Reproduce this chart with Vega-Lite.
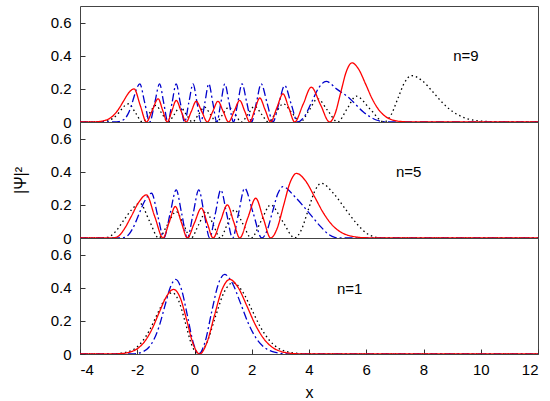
{
  "$schema": "https://vega.github.io/schema/vega-lite/v6.json",
  "padding": {"left": 11, "top": 5, "right": 5, "bottom": 0},
  "bounds": "flush",
  "spacing": 0,
  "config": {
    "font": "Liberation Sans",
    "view": {"stroke": "#444444", "strokeWidth": 1},
    "axis": {
      "domain": false, "grid": false, "tickColor": "#333333", "tickSize": -5, "tickCount": 20, "labelOverlap": false,
      "labelFontSize": 15, "labelColor": "#000000",
      "titleFontSize": 16, "titleFontWeight": "normal", "titleColor": "#000000"
    }
  },
  "datasets": {
    "lab": [
      {"n": 9, "x": 9.48, "y": 0.40, "t": "n=9"},
      {"n": 5, "x": 7.48, "y": 0.40, "t": "n=5"},
      {"n": 1, "x": 5.42, "y": 0.39, "t": "n=1"}
    ],
    "psi": [
      {"n":9,"c":"k","x":-4,"y":0},{"n":9,"c":"k","x":-3.45,"y":0},{"n":9,"c":"k","x":-3.26,"y":0.001},{"n":9,"c":"k","x":-3.125,"y":0.004},
      {"n":9,"c":"k","x":-2.99,"y":0.010},{"n":9,"c":"k","x":-2.85,"y":0.022},{"n":9,"c":"k","x":-2.71,"y":0.043},{"n":9,"c":"k","x":-2.575,"y":0.071},
      {"n":9,"c":"k","x":-2.44,"y":0.098},{"n":9,"c":"k","x":-2.3,"y":0.11},{"n":9,"c":"k","x":-2.06,"y":0.055},{"n":9,"c":"k","x":-1.82,"y":0},
      {"n":9,"c":"k","x":-1.585,"y":0.05},{"n":9,"c":"k","x":-1.35,"y":0.10},{"n":9,"c":"k","x":-1.135,"y":0.05},{"n":9,"c":"k","x":-0.92,"y":0},
      {"n":9,"c":"k","x":-0.71,"y":0.045},{"n":9,"c":"k","x":-0.5,"y":0.09},{"n":9,"c":"k","x":-0.285,"y":0.045},{"n":9,"c":"k","x":-0.07,"y":0},
      {"n":9,"c":"k","x":0.14,"y":0.045},{"n":9,"c":"k","x":0.35,"y":0.09},{"n":9,"c":"k","x":0.56,"y":0.045},{"n":9,"c":"k","x":0.77,"y":0},
      {"n":9,"c":"k","x":0.985,"y":0.045},{"n":9,"c":"k","x":1.2,"y":0.09},{"n":9,"c":"k","x":1.42,"y":0.045},{"n":9,"c":"k","x":1.64,"y":0},
      {"n":9,"c":"k","x":1.87,"y":0.0475},{"n":9,"c":"k","x":2.1,"y":0.095},{"n":9,"c":"k","x":2.34,"y":0.0475},{"n":9,"c":"k","x":2.58,"y":0},
      {"n":9,"c":"k","x":2.84,"y":0.055},{"n":9,"c":"k","x":3.1,"y":0.11},{"n":9,"c":"k","x":3.4,"y":0.055},{"n":9,"c":"k","x":3.7,"y":0},
      {"n":9,"c":"k","x":4.0,"y":0.07},{"n":9,"c":"k","x":4.3,"y":0.14},{"n":9,"c":"k","x":4.65,"y":0.07},{"n":9,"c":"k","x":5.0,"y":0},
      {"n":9,"c":"k","x":5.325,"y":0.078},{"n":9,"c":"k","x":5.65,"y":0.156},{"n":9,"c":"k","x":6.135,"y":0.078},{"n":9,"c":"k","x":6.62,"y":0},
      {"n":9,"c":"k","x":6.86,"y":0.041},{"n":9,"c":"k","x":7.10,"y":0.14},{"n":9,"c":"k","x":7.34,"y":0.239},{"n":9,"c":"k","x":7.58,"y":0.28},
      {"n":9,"c":"k","x":7.955,"y":0.249},{"n":9,"c":"k","x":8.33,"y":0.181},{"n":9,"c":"k","x":8.705,"y":0.109},{"n":9,"c":"k","x":9.08,"y":0.056},
      {"n":9,"c":"k","x":9.455,"y":0.024},{"n":9,"c":"k","x":9.83,"y":0.009},{"n":9,"c":"k","x":10.205,"y":0.003},{"n":9,"c":"k","x":10.58,"y":0.001},
      {"n":9,"c":"k","x":10.9,"y":0},{"n":9,"c":"k","x":12,"y":0},

      {"n":9,"c":"b","x":-4,"y":0},{"n":9,"c":"b","x":-2.8,"y":0},{"n":9,"c":"b","x":-2.645,"y":0.002},{"n":9,"c":"b","x":-2.54,"y":0.008},
      {"n":9,"c":"b","x":-2.435,"y":0.020},{"n":9,"c":"b","x":-2.33,"y":0.046},{"n":9,"c":"b","x":-2.225,"y":0.089},{"n":9,"c":"b","x":-2.12,"y":0.148},
      {"n":9,"c":"b","x":-2.015,"y":0.204},{"n":9,"c":"b","x":-1.91,"y":0.23},{"n":9,"c":"b","x":-1.7375,"y":0.115},{"n":9,"c":"b","x":-1.565,"y":0},
      {"n":9,"c":"b","x":-1.39,"y":0.115},{"n":9,"c":"b","x":-1.22,"y":0.23},{"n":9,"c":"b","x":-1.075,"y":0.115},{"n":9,"c":"b","x":-0.93,"y":0},
      {"n":9,"c":"b","x":-0.785,"y":0.115},{"n":9,"c":"b","x":-0.64,"y":0.23},{"n":9,"c":"b","x":-0.495,"y":0.115},{"n":9,"c":"b","x":-0.345,"y":0},
      {"n":9,"c":"b","x":-0.2,"y":0.115},{"n":9,"c":"b","x":-0.05,"y":0.23},{"n":9,"c":"b","x":0.09,"y":0.115},{"n":9,"c":"b","x":0.225,"y":0},
      {"n":9,"c":"b","x":0.36,"y":0.115},{"n":9,"c":"b","x":0.50,"y":0.23},{"n":9,"c":"b","x":0.64,"y":0.115},{"n":9,"c":"b","x":0.78,"y":0},
      {"n":9,"c":"b","x":0.92,"y":0.115},{"n":9,"c":"b","x":1.06,"y":0.23},{"n":9,"c":"b","x":1.21,"y":0.115},{"n":9,"c":"b","x":1.36,"y":0},
      {"n":9,"c":"b","x":1.51,"y":0.115},{"n":9,"c":"b","x":1.66,"y":0.23},{"n":9,"c":"b","x":1.83,"y":0.115},{"n":9,"c":"b","x":1.995,"y":0},
      {"n":9,"c":"b","x":2.16,"y":0.115},{"n":9,"c":"b","x":2.33,"y":0.23},{"n":9,"c":"b","x":2.535,"y":0.115},{"n":9,"c":"b","x":2.74,"y":0},
      {"n":9,"c":"b","x":2.945,"y":0.11},{"n":9,"c":"b","x":3.15,"y":0.22},{"n":9,"c":"b","x":3.375,"y":0.11},{"n":9,"c":"b","x":3.6,"y":0},
      {"n":9,"c":"b","x":3.85,"y":0.036},{"n":9,"c":"b","x":4.1,"y":0.1225},{"n":9,"c":"b","x":4.35,"y":0.209},{"n":9,"c":"b","x":4.6,"y":0.245},
      {"n":9,"c":"b","x":4.96,"y":0.20},{"n":9,"c":"b","x":5.42,"y":0.142},{"n":9,"c":"b","x":5.89,"y":0.062},{"n":9,"c":"b","x":6.35,"y":0.012},
      {"n":9,"c":"b","x":6.6,"y":0.002},{"n":9,"c":"b","x":6.8,"y":0},{"n":9,"c":"b","x":12,"y":0},

      {"n":9,"c":"r","x":-4,"y":0},{"n":9,"c":"r","x":-3.6,"y":0},{"n":9,"c":"r","x":-3.37,"y":0.002},{"n":9,"c":"r","x":-3.19,"y":0.007},
      {"n":9,"c":"r","x":-3.01,"y":0.017},{"n":9,"c":"r","x":-2.83,"y":0.040},{"n":9,"c":"r","x":-2.65,"y":0.078},{"n":9,"c":"r","x":-2.47,"y":0.129},
      {"n":9,"c":"r","x":-2.29,"y":0.178},{"n":9,"c":"r","x":-2.11,"y":0.20},{"n":9,"c":"r","x":-1.895,"y":0.10},{"n":9,"c":"r","x":-1.68,"y":0},
      {"n":9,"c":"r","x":-1.475,"y":0.07},{"n":9,"c":"r","x":-1.27,"y":0.14},{"n":9,"c":"r","x":-1.11,"y":0.07},{"n":9,"c":"r","x":-0.95,"y":0},
      {"n":9,"c":"r","x":-0.795,"y":0.065},{"n":9,"c":"r","x":-0.64,"y":0.13},{"n":9,"c":"r","x":-0.465,"y":0.065},{"n":9,"c":"r","x":-0.29,"y":0},
      {"n":9,"c":"r","x":-0.115,"y":0.0625},{"n":9,"c":"r","x":0.06,"y":0.125},{"n":9,"c":"r","x":0.255,"y":0.0625},{"n":9,"c":"r","x":0.45,"y":0},
      {"n":9,"c":"r","x":0.635,"y":0.0625},{"n":9,"c":"r","x":0.82,"y":0.125},{"n":9,"c":"r","x":1.005,"y":0.0625},{"n":9,"c":"r","x":1.19,"y":0},
      {"n":9,"c":"r","x":1.385,"y":0.065},{"n":9,"c":"r","x":1.58,"y":0.13},{"n":9,"c":"r","x":1.755,"y":0.065},{"n":9,"c":"r","x":1.93,"y":0},
      {"n":9,"c":"r","x":2.105,"y":0.0725},{"n":9,"c":"r","x":2.28,"y":0.145},{"n":9,"c":"r","x":2.47,"y":0.0725},{"n":9,"c":"r","x":2.66,"y":0},
      {"n":9,"c":"r","x":2.875,"y":0.085},{"n":9,"c":"r","x":3.09,"y":0.17},{"n":9,"c":"r","x":3.295,"y":0.085},{"n":9,"c":"r","x":3.5,"y":0},
      {"n":9,"c":"r","x":3.79,"y":0.105},{"n":9,"c":"r","x":4.08,"y":0.21},{"n":9,"c":"r","x":4.40,"y":0.105},{"n":9,"c":"r","x":4.72,"y":0},
      {"n":9,"c":"r","x":4.915,"y":0.052},{"n":9,"c":"r","x":5.11,"y":0.179},{"n":9,"c":"r","x":5.305,"y":0.305},{"n":9,"c":"r","x":5.50,"y":0.357},
      {"n":9,"c":"r","x":5.74,"y":0.317},{"n":9,"c":"r","x":5.975,"y":0.230},{"n":9,"c":"r","x":6.21,"y":0.139},{"n":9,"c":"r","x":6.45,"y":0.071},
      {"n":9,"c":"r","x":6.69,"y":0.031},{"n":9,"c":"r","x":6.925,"y":0.012},{"n":9,"c":"r","x":7.16,"y":0.004},{"n":9,"c":"r","x":7.4,"y":0.001},
      {"n":9,"c":"r","x":7.6,"y":0},{"n":9,"c":"r","x":12,"y":0},

      {"n":5,"c":"k","x":-4,"y":0},{"n":5,"c":"k","x":-3.25,"y":0},{"n":5,"c":"k","x":-3.1,"y":0.002},{"n":5,"c":"k","x":-2.95,"y":0.01},
      {"n":5,"c":"k","x":-2.75,"y":0.04},{"n":5,"c":"k","x":-2.5,"y":0.10},{"n":5,"c":"k","x":-2.2,"y":0.17},{"n":5,"c":"k","x":-1.91,"y":0.21},
      {"n":5,"c":"k","x":-1.58,"y":0.105},{"n":5,"c":"k","x":-1.25,"y":0},{"n":5,"c":"k","x":-0.945,"y":0.08},{"n":5,"c":"k","x":-0.64,"y":0.16},
      {"n":5,"c":"k","x":-0.38,"y":0.08},{"n":5,"c":"k","x":-0.12,"y":0},{"n":5,"c":"k","x":0.145,"y":0.08},{"n":5,"c":"k","x":0.41,"y":0.16},
      {"n":5,"c":"k","x":0.655,"y":0.08},{"n":5,"c":"k","x":0.9,"y":0},{"n":5,"c":"k","x":1.15,"y":0.085},{"n":5,"c":"k","x":1.40,"y":0.17},
      {"n":5,"c":"k","x":1.69,"y":0.085},{"n":5,"c":"k","x":1.98,"y":0},{"n":5,"c":"k","x":2.32,"y":0.10},{"n":5,"c":"k","x":2.66,"y":0.20},
      {"n":5,"c":"k","x":3.08,"y":0.10},{"n":5,"c":"k","x":3.5,"y":0},{"n":5,"c":"k","x":3.73,"y":0.048},{"n":5,"c":"k","x":3.965,"y":0.165},
      {"n":5,"c":"k","x":4.2,"y":0.282},{"n":5,"c":"k","x":4.43,"y":0.33},{"n":5,"c":"k","x":4.85,"y":0.27},{"n":5,"c":"k","x":5.3,"y":0.168},
      {"n":5,"c":"k","x":5.7,"y":0.08},{"n":5,"c":"k","x":6.0,"y":0.03},{"n":5,"c":"k","x":6.3,"y":0.006},{"n":5,"c":"k","x":6.6,"y":0},
      {"n":5,"c":"k","x":12,"y":0},

      {"n":5,"c":"b","x":-4,"y":0},{"n":5,"c":"b","x":-2.6,"y":0},{"n":5,"c":"b","x":-2.45,"y":0.003},{"n":5,"c":"b","x":-2.3,"y":0.02},
      {"n":5,"c":"b","x":-2.15,"y":0.06},{"n":5,"c":"b","x":-1.95,"y":0.14},{"n":5,"c":"b","x":-1.75,"y":0.22},{"n":5,"c":"b","x":-1.5,"y":0.27},
      {"n":5,"c":"b","x":-1.285,"y":0.135},{"n":5,"c":"b","x":-1.07,"y":0},{"n":5,"c":"b","x":-0.855,"y":0.145},{"n":5,"c":"b","x":-0.64,"y":0.29},
      {"n":5,"c":"b","x":-0.445,"y":0.145},{"n":5,"c":"b","x":-0.25,"y":0},{"n":5,"c":"b","x":-0.05,"y":0.145},{"n":5,"c":"b","x":0.15,"y":0.29},
      {"n":5,"c":"b","x":0.34,"y":0.145},{"n":5,"c":"b","x":0.53,"y":0},{"n":5,"c":"b","x":0.725,"y":0.145},{"n":5,"c":"b","x":0.92,"y":0.29},
      {"n":5,"c":"b","x":1.125,"y":0.145},{"n":5,"c":"b","x":1.33,"y":0},{"n":5,"c":"b","x":1.54,"y":0.15},{"n":5,"c":"b","x":1.75,"y":0.30},
      {"n":5,"c":"b","x":2.05,"y":0.15},{"n":5,"c":"b","x":2.35,"y":0},{"n":5,"c":"b","x":2.535,"y":0.045},{"n":5,"c":"b","x":2.72,"y":0.155},
      {"n":5,"c":"b","x":2.905,"y":0.265},{"n":5,"c":"b","x":3.09,"y":0.31},{"n":5,"c":"b","x":3.5,"y":0.25},{"n":5,"c":"b","x":3.97,"y":0.158},
      {"n":5,"c":"b","x":4.4,"y":0.07},{"n":5,"c":"b","x":4.7,"y":0.02},{"n":5,"c":"b","x":4.9,"y":0.004},{"n":5,"c":"b","x":5.1,"y":0},
      {"n":5,"c":"b","x":12,"y":0},

      {"n":5,"c":"r","x":-4,"y":0},{"n":5,"c":"r","x":-2.95,"y":0},{"n":5,"c":"r","x":-2.8,"y":0.002},{"n":5,"c":"r","x":-2.65,"y":0.012},
      {"n":5,"c":"r","x":-2.45,"y":0.055},{"n":5,"c":"r","x":-2.21,"y":0.13},{"n":5,"c":"r","x":-1.95,"y":0.215},{"n":5,"c":"r","x":-1.68,"y":0.26},
      {"n":5,"c":"r","x":-1.39,"y":0.13},{"n":5,"c":"r","x":-1.10,"y":0},{"n":5,"c":"r","x":-0.885,"y":0.095},{"n":5,"c":"r","x":-0.67,"y":0.19},
      {"n":5,"c":"r","x":-0.46,"y":0.095},{"n":5,"c":"r","x":-0.25,"y":0},{"n":5,"c":"r","x":-0.005,"y":0.09},{"n":5,"c":"r","x":0.24,"y":0.18},
      {"n":5,"c":"r","x":0.445,"y":0.09},{"n":5,"c":"r","x":0.65,"y":0},{"n":5,"c":"r","x":0.90,"y":0.10},{"n":5,"c":"r","x":1.15,"y":0.20},
      {"n":5,"c":"r","x":1.365,"y":0.10},{"n":5,"c":"r","x":1.58,"y":0},{"n":5,"c":"r","x":1.86,"y":0.12},{"n":5,"c":"r","x":2.14,"y":0.24},
      {"n":5,"c":"r","x":2.40,"y":0.12},{"n":5,"c":"r","x":2.66,"y":0},{"n":5,"c":"r","x":2.885,"y":0.057},{"n":5,"c":"r","x":3.11,"y":0.195},
      {"n":5,"c":"r","x":3.335,"y":0.333},{"n":5,"c":"r","x":3.56,"y":0.39},{"n":5,"c":"r","x":3.87,"y":0.347},{"n":5,"c":"r","x":4.185,"y":0.252},
      {"n":5,"c":"r","x":4.5,"y":0.152},{"n":5,"c":"r","x":4.81,"y":0.078},{"n":5,"c":"r","x":5.125,"y":0.034},{"n":5,"c":"r","x":5.435,"y":0.013},
      {"n":5,"c":"r","x":5.75,"y":0.004},{"n":5,"c":"r","x":6.06,"y":0.001},{"n":5,"c":"r","x":6.3,"y":0},{"n":5,"c":"r","x":12,"y":0},

      {"n":1,"c":"k","x":-4,"y":0},{"n":1,"c":"k","x":-3.1,"y":0},{"n":1,"c":"k","x":-2.88,"y":0.001},{"n":1,"c":"k","x":-2.62,"y":0.004},
      {"n":1,"c":"k","x":-2.355,"y":0.012},{"n":1,"c":"k","x":-2.09,"y":0.032},{"n":1,"c":"k","x":-1.83,"y":0.074},{"n":1,"c":"k","x":-1.57,"y":0.144},
      {"n":1,"c":"k","x":-1.305,"y":0.239},{"n":1,"c":"k","x":-1.04,"y":0.329},{"n":1,"c":"k","x":-0.78,"y":0.37},{"n":1,"c":"k","x":-0.555,"y":0.322},
      {"n":1,"c":"k","x":-0.33,"y":0.196},{"n":1,"c":"k","x":-0.105,"y":0.059},{"n":1,"c":"k","x":0.12,"y":0},{"n":1,"c":"k","x":0.43,"y":0.068},
      {"n":1,"c":"k","x":0.735,"y":0.227},{"n":1,"c":"k","x":1.04,"y":0.375},{"n":1,"c":"k","x":1.35,"y":0.43},{"n":1,"c":"k","x":1.66,"y":0.382},
      {"n":1,"c":"k","x":1.975,"y":0.277},{"n":1,"c":"k","x":2.29,"y":0.167},{"n":1,"c":"k","x":2.6,"y":0.086},{"n":1,"c":"k","x":2.91,"y":0.037},
      {"n":1,"c":"k","x":3.225,"y":0.014},{"n":1,"c":"k","x":3.54,"y":0.005},{"n":1,"c":"k","x":3.85,"y":0.001},{"n":1,"c":"k","x":4.1,"y":0},
      {"n":1,"c":"k","x":12,"y":0},

      {"n":1,"c":"b","x":-4,"y":0},{"n":1,"c":"b","x":-2.35,"y":0},{"n":1,"c":"b","x":-2.16,"y":0.001},{"n":1,"c":"b","x":-1.97,"y":0.005},
      {"n":1,"c":"b","x":-1.785,"y":0.015},{"n":1,"c":"b","x":-1.6,"y":0.039},{"n":1,"c":"b","x":-1.41,"y":0.09},{"n":1,"c":"b","x":-1.22,"y":0.175},
      {"n":1,"c":"b","x":-1.035,"y":0.29},{"n":1,"c":"b","x":-0.85,"y":0.40},{"n":1,"c":"b","x":-0.66,"y":0.45},{"n":1,"c":"b","x":-0.46,"y":0.392},
      {"n":1,"c":"b","x":-0.255,"y":0.238},{"n":1,"c":"b","x":-0.05,"y":0.072},{"n":1,"c":"b","x":0.15,"y":0},{"n":1,"c":"b","x":0.375,"y":0.076},
      {"n":1,"c":"b","x":0.6,"y":0.254},{"n":1,"c":"b","x":0.825,"y":0.418},{"n":1,"c":"b","x":1.05,"y":0.48},{"n":1,"c":"b","x":1.325,"y":0.427},
      {"n":1,"c":"b","x":1.6,"y":0.31},{"n":1,"c":"b","x":1.875,"y":0.187},{"n":1,"c":"b","x":2.15,"y":0.096},{"n":1,"c":"b","x":2.425,"y":0.042},
      {"n":1,"c":"b","x":2.7,"y":0.016},{"n":1,"c":"b","x":2.975,"y":0.005},{"n":1,"c":"b","x":3.25,"y":0.001},{"n":1,"c":"b","x":3.5,"y":0},
      {"n":1,"c":"b","x":12,"y":0},

      {"n":1,"c":"r","x":-4,"y":0},{"n":1,"c":"r","x":-2.9,"y":0},{"n":1,"c":"r","x":-2.73,"y":0.001},{"n":1,"c":"r","x":-2.48,"y":0.004},
      {"n":1,"c":"r","x":-2.23,"y":0.013},{"n":1,"c":"r","x":-1.98,"y":0.034},{"n":1,"c":"r","x":-1.73,"y":0.078},{"n":1,"c":"r","x":-1.48,"y":0.152},
      {"n":1,"c":"r","x":-1.23,"y":0.252},{"n":1,"c":"r","x":-0.98,"y":0.347},{"n":1,"c":"r","x":-0.73,"y":0.39},{"n":1,"c":"r","x":-0.5,"y":0.34},
      {"n":1,"c":"r","x":-0.275,"y":0.206},{"n":1,"c":"r","x":-0.05,"y":0.062},{"n":1,"c":"r","x":0.18,"y":0},{"n":1,"c":"r","x":0.44,"y":0.072},
      {"n":1,"c":"r","x":0.705,"y":0.238},{"n":1,"c":"r","x":0.97,"y":0.392},{"n":1,"c":"r","x":1.23,"y":0.45},{"n":1,"c":"r","x":1.53,"y":0.40},
      {"n":1,"c":"r","x":1.83,"y":0.29},{"n":1,"c":"r","x":2.13,"y":0.175},{"n":1,"c":"r","x":2.43,"y":0.09},{"n":1,"c":"r","x":2.73,"y":0.039},
      {"n":1,"c":"r","x":3.03,"y":0.015},{"n":1,"c":"r","x":3.33,"y":0.005},{"n":1,"c":"r","x":3.63,"y":0.001},{"n":1,"c":"r","x":3.9,"y":0},
      {"n":1,"c":"r","x":12,"y":0}
    ]
  },
  "vconcat": [
    {
      "width": 458, "height": 116,
      "layer": [
        {
          "data": {"name": "psi"},
          "transform": [{"filter": "datum.n == 9"}],
          "mark": {"type": "line", "interpolate": "monotone", "strokeWidth": 1.3, "clip": true},
          "encoding": {
            "x": {"field": "x", "type": "quantitative", "scale": {"domain": [-4, 12], "nice": false}, "axis": null},
            "y": {"field": "y", "type": "quantitative", "scale": {"domain": [0, 0.7], "nice": false},
                  "axis": {"values": [0, 0.2, 0.4, 0.6], "tickCount": 20, "labelExpr": "datum.value == 0 ? '0' : format(datum.value, '.1f')", "labelPadding": 14, "title": null}},
            "color": {"field": "c", "type": "nominal", "legend": null,
                      "scale": {"domain": ["k", "b", "r"], "range": ["#000000", "#0000cc", "#ff0000"]}},
            "strokeDash": {"field": "c", "type": "nominal", "legend": null,
                           "scale": {"domain": ["k", "b", "r"], "range": [[1.5, 3], [8, 3, 2, 3], [1, 0]]}}
          }
        },
        {
          "data": {"name": "lab"},
          "transform": [{"filter": "datum.n == 9"}],
          "mark": {"type": "text", "fontSize": 15, "align": "center", "baseline": "middle"},
          "encoding": {
            "x": {"field": "x", "type": "quantitative"},
            "y": {"field": "y", "type": "quantitative"},
            "text": {"field": "t"}
          }
        }
      ]
    },
    {
      "width": 458, "height": 116,
      "layer": [
        {
          "data": {"name": "psi"},
          "transform": [{"filter": "datum.n == 5"}],
          "mark": {"type": "line", "interpolate": "monotone", "strokeWidth": 1.3, "clip": true},
          "encoding": {
            "x": {"field": "x", "type": "quantitative", "scale": {"domain": [-4, 12], "nice": false}, "axis": null},
            "y": {"field": "y", "type": "quantitative", "scale": {"domain": [0, 0.7], "nice": false},
                  "axis": {"values": [0, 0.2, 0.4, 0.6], "tickCount": 20, "labelExpr": "datum.value == 0 ? '0' : format(datum.value, '.1f')", "labelPadding": 14, "title": "|Ψ|²", "titlePadding": 22}},
            "color": {"field": "c", "type": "nominal", "legend": null,
                      "scale": {"domain": ["k", "b", "r"], "range": ["#000000", "#0000cc", "#ff0000"]}},
            "strokeDash": {"field": "c", "type": "nominal", "legend": null,
                           "scale": {"domain": ["k", "b", "r"], "range": [[1.5, 3], [8, 3, 2, 3], [1, 0]]}}
          }
        },
        {
          "data": {"name": "lab"},
          "transform": [{"filter": "datum.n == 5"}],
          "mark": {"type": "text", "fontSize": 15, "align": "center", "baseline": "middle"},
          "encoding": {
            "x": {"field": "x", "type": "quantitative"},
            "y": {"field": "y", "type": "quantitative"},
            "text": {"field": "t"}
          }
        }
      ]
    },
    {
      "width": 458, "height": 116,
      "layer": [
        {
          "data": {"name": "psi"},
          "transform": [{"filter": "datum.n == 1"}],
          "mark": {"type": "line", "interpolate": "monotone", "strokeWidth": 1.3, "clip": true},
          "encoding": {
            "x": {"field": "x", "type": "quantitative", "scale": {"domain": [-4, 12], "nice": false},
                  "axis": {"values": [-4, -2, 0, 2, 4, 6, 8, 10, 12], "tickCount": 20, "labelExpr": "'' + datum.value", "labelPadding": 13, "title": "x", "titlePadding": 7}},
            "y": {"field": "y", "type": "quantitative", "scale": {"domain": [0, 0.7], "nice": false},
                  "axis": {"values": [0, 0.2, 0.4, 0.6], "tickCount": 20, "labelExpr": "datum.value == 0 ? '0' : format(datum.value, '.1f')", "labelPadding": 14, "title": null}},
            "color": {"field": "c", "type": "nominal", "legend": null,
                      "scale": {"domain": ["k", "b", "r"], "range": ["#000000", "#0000cc", "#ff0000"]}},
            "strokeDash": {"field": "c", "type": "nominal", "legend": null,
                           "scale": {"domain": ["k", "b", "r"], "range": [[1.5, 3], [8, 3, 2, 3], [1, 0]]}}
          }
        },
        {
          "data": {"name": "lab"},
          "transform": [{"filter": "datum.n == 1"}],
          "mark": {"type": "text", "fontSize": 15, "align": "center", "baseline": "middle"},
          "encoding": {
            "x": {"field": "x", "type": "quantitative"},
            "y": {"field": "y", "type": "quantitative"},
            "text": {"field": "t"}
          }
        }
      ]
    }
  ]
}
